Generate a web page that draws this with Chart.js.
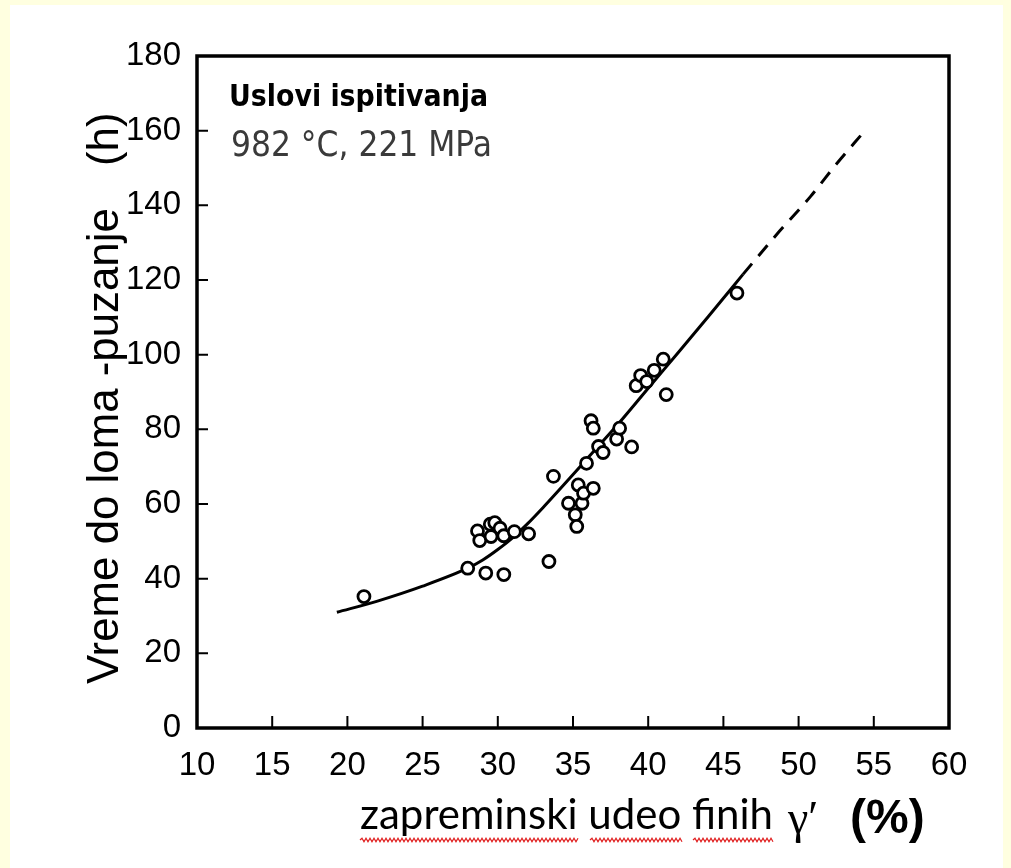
<!DOCTYPE html>
<html>
<head>
<meta charset="utf-8">
<script src="https://cdn.jsdelivr.net/npm/chart.js@4.4.1/dist/chart.umd.min.js"></script>
<style>
html, body { margin: 0; padding: 0; background: #ffffe0; }
#paper { position: absolute; left: 10px; top: 5px; width: 993px; height: 863px; background: #fff; }
#wrap { position: absolute; left: 0; top: 0; width: 1011px; height: 868px; }
</style>
</head>
<body>
<div id="paper"></div>
<div id="wrap"><canvas id="creepChart" width="1011" height="868"></canvas></div>
<script>
// measured points: volume fraction of fine gamma' (%) vs. creep rupture time (h)
var pointX = [21.1, 28.0, 29.2, 30.4, 28.65, 28.8, 29.5, 29.8, 30.15, 29.55, 30.4, 31.1, 32.05,
              33.4, 33.7, 34.7, 35.6, 35.15, 35.25, 35.35, 35.7, 36.35, 35.9, 36.7, 36.2, 36.35,
              37.0, 37.9, 38.1, 38.9, 39.2, 39.5, 39.9, 40.4, 41.0, 41.2, 45.9];
var pointY = [35.2, 42.8, 41.5, 41.1, 52.8, 50.2, 54.6, 55.0, 53.5, 51.3, 51.5, 52.6, 52.0,
              44.6, 67.4, 60.2, 60.2, 57.1, 54.0, 65.1, 62.9, 64.2, 70.9, 75.4, 82.3, 80.3,
              73.8, 77.4, 80.3, 75.3, 91.7, 94.4, 92.8, 95.8, 98.8, 89.3, 116.5];

// trend curve (solid) and its extrapolation (dashed)
var fitX = [19.3, 22, 25, 28, 29, 30, 31, 32, 33, 34, 36, 38, 40, 42, 44, 46.3];
var fitY = [31.0, 34.0, 38.0, 42.8, 45.0, 47.8, 51.0, 54.8, 59.0, 63.4, 72.4, 81.4, 91.0, 100.6, 110.2, 121.5];
var extX = [46.3, 48.5, 50.8, 52.5, 54.3];
var extY = [121.5, 132, 142.4, 151, 159.5];

var xTicks = [10, 15, 20, 25, 30, 35, 40, 45, 50, 55, 60];
var yTicks = [0, 20, 40, 60, 80, 100, 120, 140, 160, 180];

function pairs(xs, ys) {
    return xs.map(function (x, i) { return { x: x, y: ys[i] }; });
}

function fitFont(ctx, text, weight, family, width) {
    ctx.font = weight + ' 100px ' + family;
    var size = 100 * width / ctx.measureText(text).width;
    ctx.font = weight + ' ' + size.toFixed(2) + 'px ' + family;
    return size;
}

function wavy(ctx, x1, x2, y) {
    ctx.beginPath();
    ctx.moveTo(x1, y);
    var up = true;
    for (var x = x1 + 2; x <= x2; x += 2) {
        ctx.lineTo(x, up ? y - 1.8 : y + 1.8);
        up = !up;
    }
    ctx.strokeStyle = '#e02020';
    ctx.lineWidth = 1.2;
    ctx.stroke();
}

var decorations = {
    id: 'decorations',
    afterDraw: function (chart) {
        var ctx = chart.ctx;
        var a = chart.chartArea;
        var xs = chart.scales.x, ys = chart.scales.y;
        ctx.save();

        // frame
        ctx.strokeStyle = '#000';
        ctx.lineWidth = 3.5;
        ctx.strokeRect(a.left, a.top, a.right - a.left, a.bottom - a.top);

        // inward tick marks
        ctx.lineWidth = 2;
        ctx.beginPath();
        yTicks.slice(1, -1).forEach(function (v) {
            var py = ys.getPixelForValue(v);
            ctx.moveTo(a.left, py);
            ctx.lineTo(a.left + 11, py);
        });
        xTicks.slice(1, -1).forEach(function (v) {
            var px = xs.getPixelForValue(v);
            ctx.moveTo(px, a.bottom);
            ctx.lineTo(px, a.bottom - 12);
        });
        ctx.stroke();

        // test conditions
        ctx.fillStyle = '#000';
        ctx.textAlign = 'left';
        ctx.textBaseline = 'alphabetic';
        fitFont(ctx, 'Uslovi ispitivanja', 'bold', '"DejaVu Sans Condensed", "DejaVu Sans"', 259);
        ctx.fillText('Uslovi ispitivanja', 229, 106);
        ctx.fillStyle = '#3a3a3a';
        fitFont(ctx, '982 °C, 221 MPa', 'normal', '"DejaVu Sans Condensed", "DejaVu Sans"', 261);
        ctx.fillText('982 °C, 221 MPa', 231, 156);

        // y axis title
        ctx.fillStyle = '#000';
        ctx.save();
        ctx.translate(118, 0);
        ctx.rotate(-Math.PI / 2);
        fitFont(ctx, 'Vreme do loma -puzanje', 'normal', '"Liberation Sans"', 476);
        ctx.fillText('Vreme do loma -puzanje', -684, 0);
        ctx.fillText('(h)', -166, 0);
        ctx.restore();

        // x axis title
        fitFont(ctx, 'zapreminski udeo finih', 'normal', 'Lato', 413);
        ctx.fillText('zapreminski udeo finih', 360, 829);
        ctx.font = 'normal 46px "Liberation Serif"';
        ctx.fillText('γ′', 788, 833);
        ctx.font = 'bold 48px "Liberation Sans"';
        ctx.fillText('(%)', 850, 833);
        wavy(ctx, 360, 578, 840);
        wavy(ctx, 590, 683, 840);
        wavy(ctx, 693, 773, 840);

        ctx.restore();
    }
};

var ctx = document.getElementById('creepChart').getContext('2d');
var myChart = new Chart(ctx, {
    type: 'scatter',
    data: {
        datasets: [
            {
                label: 'Merenja',
                data: pairs(pointX, pointY),
                backgroundColor: '#fff',
                borderColor: '#000',
                borderWidth: 2.8,
                pointRadius: 6,
                order: 0
            },
            {
                label: 'Trend',
                data: pairs(fitX, fitY),
                showLine: true,
                borderColor: '#000',
                borderWidth: 3,
                pointRadius: 0,
                cubicInterpolationMode: 'monotone',
                order: 1
            },
            {
                label: 'Ekstrapolacija',
                data: pairs(extX, extY),
                showLine: true,
                borderColor: '#000',
                borderWidth: 3,
                borderDash: [14, 10],
                pointRadius: 0,
                cubicInterpolationMode: 'monotone',
                order: 1
            }
        ]
    },
    options: {
        responsive: false,
        animation: false,
        layout: { padding: { left: 0, right: 62, top: 56, bottom: 0 } },
        plugins: { legend: { display: false }, tooltip: { enabled: false } },
        scales: {
            x: {
                type: 'linear',
                min: 10,
                max: 60,
                afterBuildTicks: function (s) { s.ticks = xTicks.map(function (v) { return { value: v }; }); },
                afterFit: function (s) { s.height = 140; },
                grid: { display: false, drawTicks: false },
                border: { display: false },
                ticks: { color: '#000', padding: 18, maxRotation: 0, font: { family: '"Liberation Sans"', size: 33 } }
            },
            y: {
                min: 0,
                max: 180,
                afterBuildTicks: function (s) { s.ticks = yTicks.map(function (v) { return { value: v }; }); },
                afterFit: function (s) { s.width = 197; },
                grid: { display: false, drawTicks: false },
                border: { display: false },
                ticks: { color: '#000', padding: 16, font: { family: '"Liberation Sans"', size: 33 } }
            }
        }
    },
    plugins: [decorations]
});
</script>
</body>
</html>
